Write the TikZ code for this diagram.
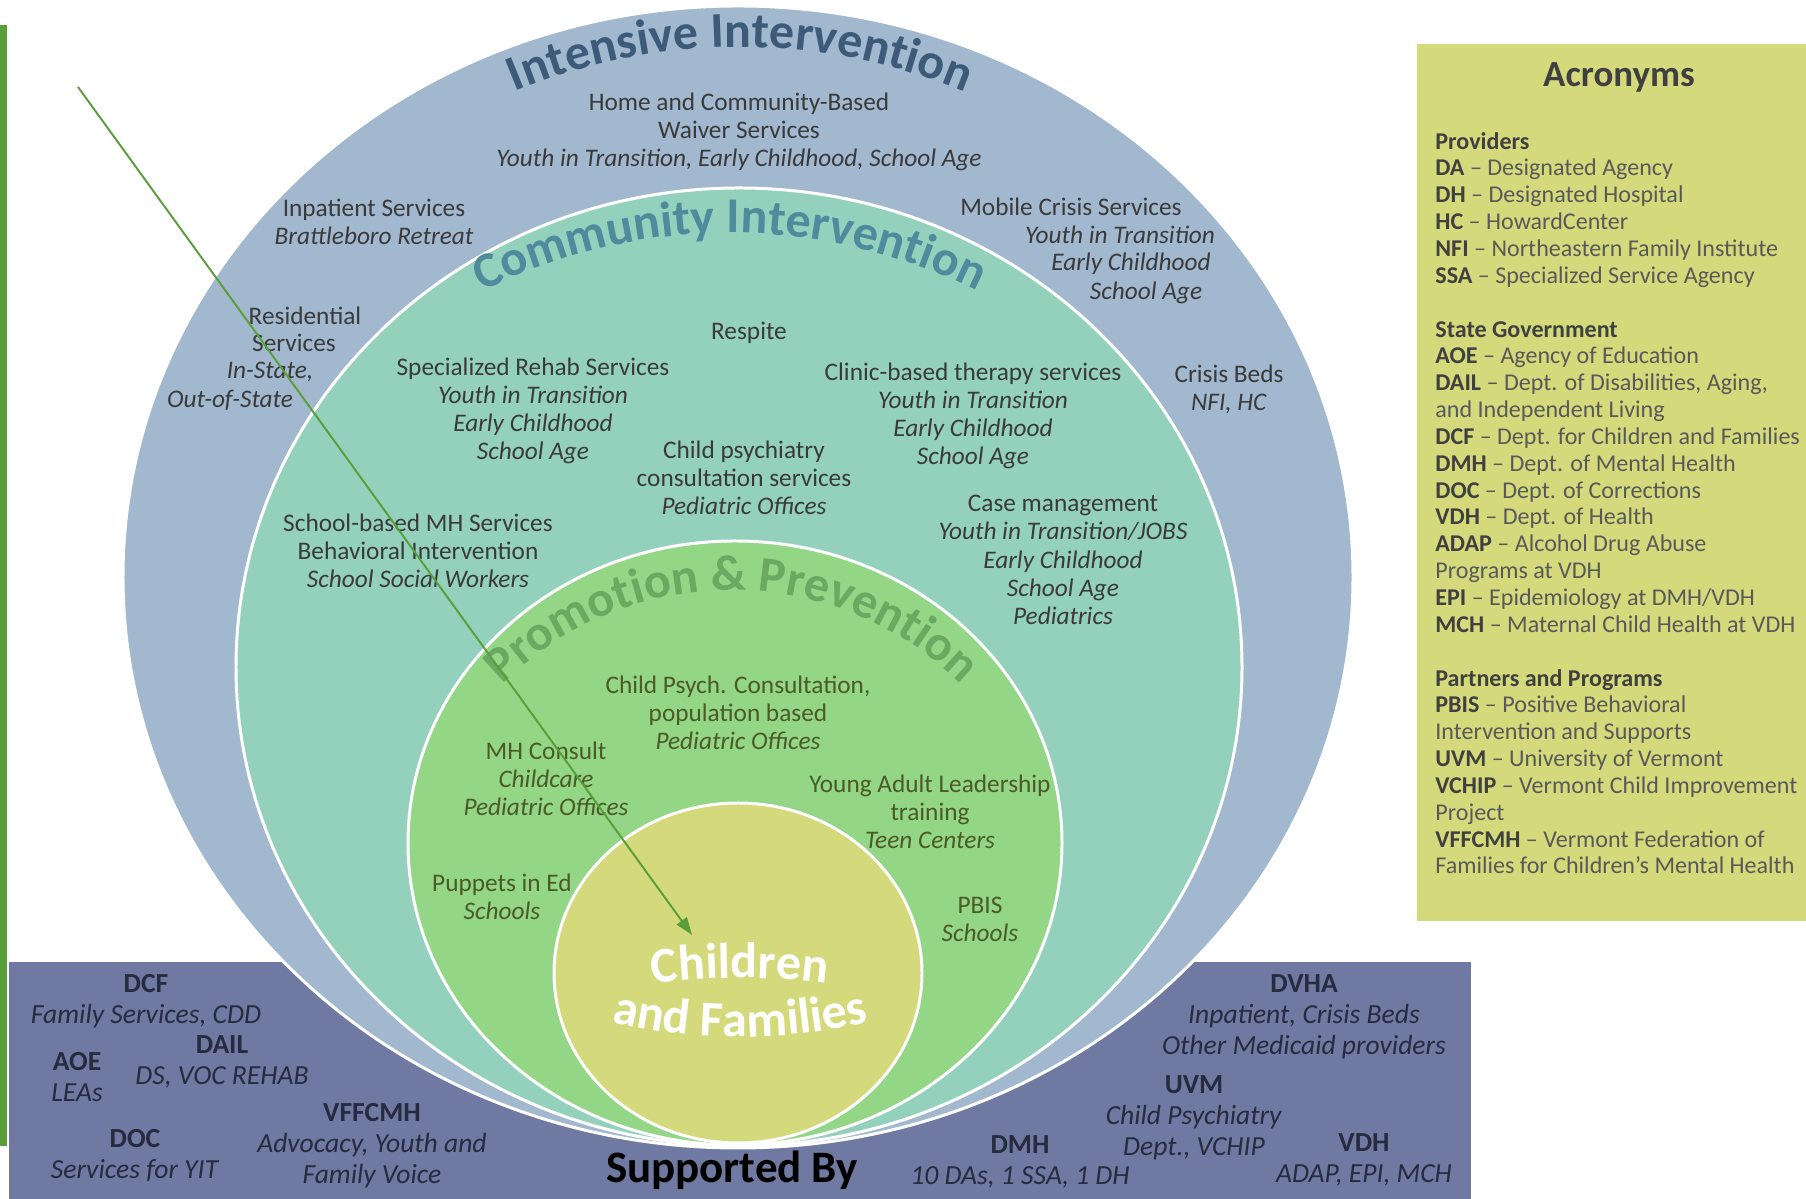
\documentclass[tikz,border=0pt]{standalone}
\usepackage{fontspec}
\setmainfont{Carlito}
\usetikzlibrary{arrows.meta,decorations.text}

\definecolor{ringout}{HTML}{A1B8CF}
\definecolor{ringcom}{HTML}{93D1BD}
\definecolor{ringpro}{HTML}{92D686}
\definecolor{ringkid}{HTML}{D4DA7B}
\definecolor{bandcol}{HTML}{7079A1}
\definecolor{barcol}{HTML}{5A9E3A}
\definecolor{txtgray}{HTML}{3A3A3A}
\definecolor{txtolive}{HTML}{4B5A26}
\definecolor{txtband}{HTML}{272B3F}
\definecolor{intcol}{HTML}{3D5B79}
\definecolor{comcol}{HTML}{4F8B9D}
\definecolor{procol}{HTML}{6AA961}
\definecolor{acrgray}{HTML}{595959}
\definecolor{acrdark}{HTML}{404040}

\newcommand{\ringfont}{\fontsize{14.4}{16}\selectfont}
\newcommand{\bandfont}{\fontsize{15.7}{17.6}\selectfont}
\newcommand{\titlefont}{\fontsize{28.5}{30}\selectfont\bfseries}
\newcommand{\acr}[1]{\textbf{\color{acrdark}#1}}

\tikzset{
  ring/.style={draw=white, line width=1.7pt},
  lbl/.style={align=center, inner sep=0pt, font=\ringfont, text=txtgray},
  prolbl/.style={lbl, text=txtolive},
  bandlbl/.style={align=center, inner sep=0pt, font=\bandfont, text=txtband},
  arctitle/.style={decorate, decoration={text along path, text align=center, #1}},
}

\begin{document}
\begin{tikzpicture}[x=0.02cm, y=0.02cm]
    \useasboundingbox (0,0) rectangle (1806,1199);
    \fill[barcol] (0,53) rectangle (7,1174);
    \fill[bandcol] (9,0) rectangle (1471,237);
    \fill[ringkid] (1417,278) rectangle (1806,1155);

    \filldraw[ring, fill=ringout] (738,622) ellipse [x radius=615, y radius=571];
    \filldraw[ring, fill=ringcom] (739,532) ellipse [x radius=503, y radius=479];
    \filldraw[ring, fill=ringpro] (735,356) ellipse [x radius=327, y radius=302];
    \filldraw[ring, fill=ringkid] (738,226) ellipse [x radius=184, y radius=170];

    \path[arctitle={text={|\titlefont|Intensive Intervention}, text color=intcol}]
        ([shift={(125:585)}]740,567) arc[start angle=125, end angle=55, radius=585];
    \path[arctitle={text={|\titlefont|Community Intervention}, text color=comcol}]
        ([shift={(125:555)}]730,411) arc[start angle=125, end angle=55, radius=555];
    \path[arctitle={text={|\titlefont|Promotion {\&} Prevention}, text color=procol}]
        ([shift={(140:326)}]732,283) arc[start angle=140, end angle=40, radius=326];
    \path[arctitle={text={|\titlefont|Children}, text color=white}]
        ([shift={(100:700)}]740,-479) arc[start angle=100, end angle=80, radius=700];
    \path[arctitle={text={|\titlefont|and Families}, text color=white}]
        ([shift={(250:560)}]740,722) arc[start angle=250, end angle=290, radius=560];

    \node[lbl] (hcbs) at (739,1067) {Home and Community-Based\\Waiver Services\\\textit{Youth in Transition, Early Childhood, School Age}};
    \node[lbl] (inpat) at (374,977) {Inpatient Services\\\textit{Brattleboro Retreat}};
    \node[lbl] (resa) at (305,883) {Residential};
    \node[lbl] (resb) at (294,856) {Services};
    \node[lbl] (resc) at (270,827) {\textit{In-State,}};
    \node[lbl] (resd) at (230,799) {\textit{Out-of-State}};
    \node[lbl] (mobilea) at (1071,992) {Mobile Crisis Services};
    \node[lbl] (mobileb) at (1120,964) {\textit{Youth in Transition}};
    \node[lbl] (mobilec) at (1131,935) {\textit{Early Childhood}};
    \node[lbl] (mobiled) at (1146,906) {\textit{School Age}};
    \node[lbl] (beds) at (1229,810) {Crisis Beds\\\textit{NFI, HC}};

    \node[lbl] (respite) at (749,866) {Respite};
    \node[lbl] (rehab) at (533,788) {Specialized Rehab Services\\\textit{Youth in Transition}\\\textit{Early Childhood}\\\textit{School Age}};
    \node[lbl] (clinic) at (973,783) {Clinic-based therapy services\\\textit{Youth in Transition}\\\textit{Early Childhood}\\\textit{School Age}};
    \node[lbl] (psych) at (744,721) {Child psychiatry\\consultation services\\\textit{Pediatric Offices}};
    \node[lbl] (school) at (418,648) {School-based MH Services\\Behavioral Intervention\\\textit{School Social Workers}};
    \node[lbl] (casemgmt) at (1063,639) {Case management\\\textit{Youth in Transition/JOBS}\\\textit{Early Childhood}\\\textit{School Age}\\\textit{Pediatrics}};

    \node[prolbl] (popconsult) at (738,486) {Child Psych. Consultation,\\population based\\\textit{Pediatric Offices}};
    \node[prolbl] (mhconsult) at (546,420) {MH Consult\\\textit{Childcare}\\\textit{Pediatric Offices}};
    \node[prolbl] (youngadult) at (930,387) {Young Adult Leadership\\training\\\textit{Teen Centers}};
    \node[prolbl] (puppets) at (502,302) {Puppets in Ed\\\textit{Schools}};
    \node[prolbl] (pbis) at (980,280) {PBIS\\\textit{Schools}};

    \node[bandlbl] (dcf) at (146,198) {\textbf{DCF}\\\textit{Family Services, CDD}};
    \node[bandlbl] (aoe) at (77,122) {\textbf{AOE}\\\textit{LEAs}};
    \node[bandlbl] (dail) at (222,137) {\textbf{DAIL}\\\textit{DS, VOC REHAB}};
    \node[bandlbl] (vffcmh) at (372,53) {\textbf{VFFCMH}\\\textit{Advocacy, Youth and}\\\textit{Family Voice}};
    \node[bandlbl] (doc) at (135,43) {\textbf{DOC}\\\textit{Services for YIT}};
    \node[anchor=base, inner sep=0pt, font=\fontsize{25.6}{28}\selectfont\bfseries] (supported) at (732,16) {Supported By};
    \node[bandlbl] (dvha) at (1304,182) {\textbf{DVHA}\\\textit{Inpatient, Crisis Beds}\\\textit{Other Medicaid providers}};
    \node[bandlbl] (uvm) at (1194,81) {\textbf{UVM}\\\textit{Child Psychiatry}\\\textit{Dept., VCHIP}};
    \node[bandlbl] (dmh) at (1020,37) {\textbf{DMH}\\\textit{10 DAs, 1 SSA, 1 DH}};
    \node[bandlbl] (vdh) at (1364,39) {\textbf{VDH}\\\textit{ADAP, EPI, MCH}};

    \node[anchor=base, inner sep=0pt, font=\fontsize{21}{24}\selectfont\bfseries, text=acrdark] (acrtitle) at (1619,1112) {Acronyms};
    \node[anchor=base west, inner sep=0pt, align=left, font=\fontsize{13.7}{15.28}\selectfont, text=acrgray] (acrlist) at (1435,325) {%
        \acr{Providers}\\
        \acr{DA} -- Designated Agency\\
        \acr{DH} -- Designated Hospital\\
        \acr{HC} -- HowardCenter\\
        \acr{NFI} -- Northeastern Family Institute\\
        \acr{SSA} -- Specialized Service Agency\\[15.28pt]
        \acr{State Government}\\
        \acr{AOE} -- Agency of Education\\
        \acr{DAIL} -- Dept. of Disabilities, Aging,\\
        and Independent Living\\
        \acr{DCF} -- Dept. for Children and Families\\
        \acr{DMH} -- Dept. of Mental Health\\
        \acr{DOC} -- Dept. of Corrections\\
        \acr{VDH} -- Dept. of Health\\
        \acr{ADAP} -- Alcohol Drug Abuse\\
        Programs at VDH\\
        \acr{EPI} -- Epidemiology at DMH/VDH\\
        \acr{MCH} -- Maternal Child Health at VDH\\[15.28pt]
        \acr{Partners and Programs}\\
        \acr{PBIS} -- Positive Behavioral\\
        Intervention and Supports\\
        \acr{UVM} -- University of Vermont\\
        \acr{VCHIP} -- Vermont Child Improvement\\
        Project\\
        \acr{VFFCMH} -- Vermont Federation of\\
        Families for Children's Mental Health};

    \coordinate (arrowtail) at (78,1112);
    \coordinate (arrowtip) at (692,264);
    \draw[barcol, line width=1.1pt, -{Triangle[length=10pt,width=7pt]}] (arrowtail) -- (arrowtip);
\end{tikzpicture}
\end{document}
